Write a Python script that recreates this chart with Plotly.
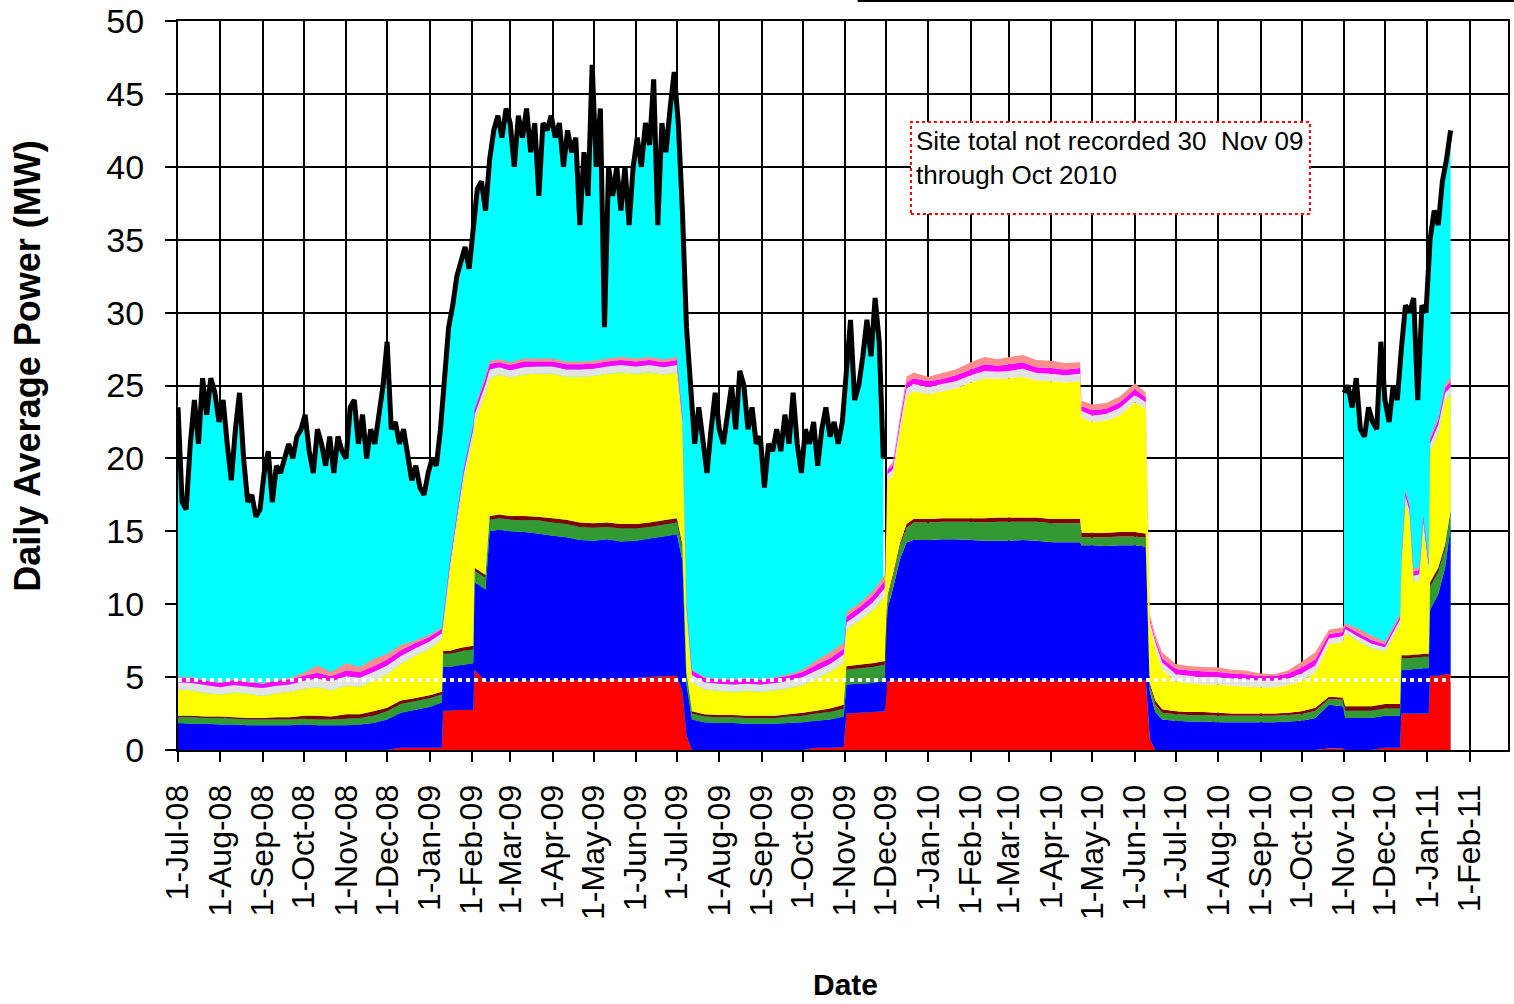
import pandas as pd
import plotly.graph_objects as go

# ---------------- data ----------------
stack_dates = [
    "2008-07-01", "2008-07-11", "2008-07-21", "2008-08-01", "2008-08-11", "2008-08-21",
    "2008-09-01", "2008-09-11", "2008-09-21", "2008-10-01", "2008-10-11", "2008-10-21",
    "2008-11-01", "2008-11-11", "2008-11-21", "2008-12-01", "2008-12-11", "2008-12-21",
    "2009-01-01", "2009-01-10", "2009-01-11", "2009-01-16", "2009-01-21", "2009-01-26",
    "2009-02-02", "2009-02-03", "2009-02-11", "2009-02-14", "2009-02-21", "2009-03-01",
    "2009-03-11", "2009-03-21", "2009-04-01", "2009-04-11", "2009-04-21", "2009-05-01",
    "2009-05-11", "2009-05-21", "2009-06-01", "2009-06-11", "2009-06-21", "2009-07-01",
    "2009-07-05", "2009-07-08", "2009-07-12", "2009-07-21", "2009-08-01", "2009-08-11",
    "2009-08-21", "2009-09-01", "2009-09-11", "2009-09-21", "2009-10-01", "2009-10-11",
    "2009-10-21", "2009-10-31", "2009-11-02", "2009-11-11", "2009-11-21", "2009-11-30",
    "2009-12-02", "2009-12-06", "2009-12-11", "2009-12-16", "2009-12-21", "2010-01-01",
    "2010-01-11", "2010-01-21", "2010-02-01", "2010-02-11", "2010-02-21", "2010-03-01",
    "2010-03-11", "2010-03-21", "2010-04-01", "2010-04-11", "2010-04-22", "2010-04-23",
    "2010-05-01", "2010-05-11", "2010-05-21", "2010-06-01", "2010-06-09", "2010-06-12",
    "2010-06-16", "2010-06-21", "2010-07-01", "2010-07-11", "2010-07-21", "2010-08-01",
    "2010-08-11", "2010-08-21", "2010-09-01", "2010-09-11", "2010-09-21", "2010-10-01",
    "2010-10-11", "2010-10-21", "2010-10-31", "2010-11-02", "2010-11-11", "2010-11-21",
    "2010-12-01", "2010-12-12", "2010-12-13", "2010-12-16", "2010-12-19", "2010-12-22",
    "2010-12-26", "2010-12-29", "2011-01-02", "2011-01-03", "2011-01-09", "2011-01-14",
    "2011-01-18",
]

red = [
    0, 0, 0, 0, 0, 0, 0, 0, 0, 0, 0, 0, 0, 0, 0, 0,
    0.15, 0.15, 0.15, 0.15,
    2.7, 2.7, 2.75, 2.75, 2.75,
    5.5, 4.7, 4.7, 4.7, 4.7, 4.75, 4.75, 4.8, 4.8, 4.8, 4.85, 4.85, 4.9, 4.95, 5.0, 5.05, 5.1,
    4.0, 1.0, 0,
    0, 0, 0, 0, 0, 0, 0, 0,
    0.15, 0.15, 0.2,
    2.5, 2.55, 2.6, 2.65,
    4.7, 4.75, 4.75, 4.75, 4.75, 4.75, 4.75, 4.75, 4.75, 4.75, 4.75, 4.75, 4.75, 4.75, 4.75,
    4.75, 4.75, 4.75, 4.75, 4.75, 4.75, 4.75, 4.75,
    0.7, 0,
    0, 0, 0, 0, 0, 0, 0, 0, 0, 0, 0, 0,
    0.1, 0.1,
    0, 0, 0,
    0.15, 0.15,
    2.5, 2.5, 2.5, 2.5, 2.5, 2.5, 2.5,
    5.1, 5.1, 5.2, 5.2,
]

blue = [
    1.85, 1.8, 1.8, 1.75, 1.75, 1.7, 1.7, 1.7, 1.7, 1.75, 1.7, 1.7, 1.7, 1.75, 1.85, 2.1,
    2.4, 2.6, 2.8, 3.1,
    3.0, 3.0, 3.05, 3.1, 3.2,
    6.0, 6.3, 10.3, 10.4, 10.3, 10.2, 10.1, 9.9, 9.8, 9.6, 9.5, 9.6, 9.4, 9.4, 9.5, 9.6, 9.7,
    9.0, 3.5, 2.1,
    1.9, 1.85, 1.85, 1.8, 1.8, 1.8, 1.85, 1.9,
    1.85, 1.95, 2.1,
    2.0, 2.0, 2.0, 2.1,
    5.0, 6.3, 8.3, 9.5, 9.65, 9.65, 9.7, 9.7, 9.65, 9.6, 9.6, 9.6, 9.65, 9.6, 9.5,
    9.5, 9.5, 9.3, 9.3, 9.25, 9.3, 9.3, 9.2,
    3.3, 2.6,
    2.1, 2.0, 1.95, 1.95, 1.9, 1.9, 1.9, 1.9, 1.9, 1.95, 2.0, 2.2,
    3.0, 2.9,
    2.2, 2.2, 2.2,
    2.2, 2.2,
    3.0, 3.0, 3.0, 3.05, 3.05, 3.1, 3.1,
    4.5, 5.6, 7.3, 10.1,
]

green = [
    0.4, 0.45, 0.4, 0.45, 0.4, 0.4, 0.4, 0.4, 0.4, 0.4, 0.4, 0.4, 0.45, 0.45, 0.5, 0.55,
    0.6, 0.6, 0.6, 0.55,
    0.9, 0.9, 0.9, 0.95, 0.95,
    0.8, 0.8, 0.8, 0.8, 0.8, 0.8, 0.9, 0.9, 0.9, 0.9, 0.9, 0.85, 0.9, 0.85, 0.8, 0.8, 0.8,
    0.8, 0.6, 0.4,
    0.4, 0.4, 0.4, 0.4, 0.4, 0.4, 0.45, 0.45,
    0.5, 0.5, 0.55,
    1.0, 1.05, 1.1, 1.1,
    0.7, 0.8, 0.9, 1.0, 1.2, 1.2, 1.2, 1.2, 1.25, 1.25, 1.3, 1.3, 1.25, 1.3, 1.3,
    1.3, 1.3, 0.55, 0.55, 0.6, 0.6, 0.6, 0.6,
    0.4, 0.5,
    0.45, 0.45, 0.45, 0.45, 0.45, 0.45, 0.45, 0.45, 0.45, 0.45, 0.45, 0.5,
    0.4, 0.45,
    0.5, 0.5, 0.5,
    0.5, 0.5,
    0.8, 0.8, 0.8, 0.8, 0.8, 0.8, 0.8,
    1.6, 1.5, 1.3, 0.9,
]

brown = [
    0.1, 0.1, 0.1, 0.1, 0.1, 0.1, 0.1, 0.15, 0.15, 0.2, 0.25, 0.2, 0.3, 0.25, 0.3, 0.25,
    0.25, 0.2, 0.2, 0.2,
    0.2, 0.2, 0.25, 0.25, 0.25,
    0.2, 0.2, 0.25, 0.25, 0.25, 0.3, 0.25, 0.3, 0.3, 0.3, 0.3, 0.3, 0.3, 0.3, 0.3, 0.3, 0.3,
    0.3, 0.2, 0.15,
    0.15, 0.15, 0.15, 0.15, 0.15, 0.15, 0.15, 0.2,
    0.2, 0.25, 0.25,
    0.25, 0.25, 0.25, 0.25,
    0.2, 0.2, 0.2, 0.25, 0.25, 0.25, 0.25, 0.25, 0.25, 0.3, 0.3, 0.3, 0.3, 0.3, 0.3,
    0.3, 0.3, 0.3, 0.3, 0.3, 0.3, 0.3, 0.3,
    0.2, 0.3,
    0.25, 0.2, 0.2, 0.2, 0.2, 0.15, 0.15, 0.15, 0.15, 0.15, 0.2, 0.2,
    0.15, 0.15,
    0.3, 0.3, 0.3,
    0.3, 0.3,
    0.2, 0.2, 0.2, 0.2, 0.2, 0.2, 0.2,
    0.3, 0.3, 0.3, 0.2,
]

yellow = [
    1.8, 1.75, 1.6, 1.5, 1.7, 1.65, 1.5, 1.65, 1.75, 1.85, 1.95, 1.8, 1.95, 1.9, 2.1, 2.3,
    2.5, 2.9, 3.2, 3.6,
    1.6, 5.5, 8.55, 11.45, 14.35,
    10.0, 12.5, 9.45, 9.6, 9.5, 9.7, 9.8, 9.9, 9.8, 10.0, 10.1, 10.2, 10.4, 10.3, 10.3, 10.0, 10.0,
    8.0, 4.0, 2.0,
    1.7, 1.65, 1.6, 1.7, 1.65, 1.75, 1.8, 1.9,
    2.2, 2.5, 2.9,
    2.5, 3.0, 3.6, 4.4,
    7.9, 6.8, 7.5, 8.8, 8.75, 8.55, 8.7, 8.9, 9.3, 9.6, 9.5, 9.55, 9.65, 9.4, 9.45,
    9.35, 9.45, 7.9, 7.6, 7.7, 8.0, 8.9, 8.55,
    3.9, 3.6,
    2.7, 2.05, 2.0, 1.9, 1.95, 1.9, 1.85, 1.8, 1.8, 1.9, 2.1, 2.4,
    3.6, 3.8,
    5.0, 4.5, 4.0,
    3.6, 5.5,
    6.0, 10.5, 9.5, 5.0, 5.1, 8.7, 5.6,
    9.0, 9.3, 9.9, 8.0,
]

grey = [
    0.5, 0.5, 0.55, 0.5, 0.5, 0.5, 0.55, 0.5, 0.5, 0.55, 0.6, 0.6, 0.65, 0.6, 0.6, 0.6,
    0.55, 0.5, 0.5, 0.4,
    0.4, 0.4, 0.4, 0.45, 0.5,
    0.5, 0.6, 0.6, 0.5, 0.5, 0.5, 0.5, 0.5, 0.5, 0.5, 0.5, 0.5, 0.5, 0.5, 0.5, 0.5, 0.5,
    0.5, 0.5, 0.5,
    0.5, 0.5, 0.5, 0.5, 0.5, 0.5, 0.5, 0.55,
    0.55, 0.55, 0.55,
    0.5, 0.5, 0.55, 0.6,
    0.4, 0.4, 0.5, 0.5, 0.5, 0.5, 0.5, 0.5, 0.5, 0.5, 0.5, 0.5, 0.55, 0.5, 0.5,
    0.5, 0.5, 0.45, 0.45, 0.45, 0.5, 0.5, 0.45,
    0.3, 0.4,
    0.5, 0.5, 0.5, 0.5, 0.5, 0.5, 0.5, 0.45, 0.45, 0.45, 0.5, 0.5,
    0.4, 0.4,
    0.3, 0.3, 0.3,
    0.3, 0.3,
    0.4, 0.4, 0.4, 0.4, 0.4, 0.4, 0.4,
    0.5, 0.5, 0.5, 0.5,
]

magenta = [
    0.3, 0.35, 0.3, 0.3, 0.35, 0.3, 0.3, 0.35, 0.35, 0.35, 0.4, 0.35, 0.4, 0.4, 0.4, 0.4,
    0.4, 0.35, 0.3, 0.3,
    0.3, 0.3, 0.3, 0.3, 0.3,
    0.35, 0.4, 0.4, 0.35, 0.35, 0.4, 0.35, 0.35, 0.35, 0.35, 0.35, 0.35, 0.35, 0.35, 0.35, 0.35, 0.35,
    0.35, 0.3, 0.3,
    0.3, 0.3, 0.3, 0.35, 0.3, 0.35, 0.35, 0.35,
    0.4, 0.4, 0.4,
    0.4, 0.4, 0.45, 0.5,
    0.3, 0.3, 0.35, 0.4, 0.4, 0.4, 0.35, 0.4, 0.4, 0.45, 0.4, 0.45, 0.45, 0.4, 0.4,
    0.4, 0.4, 0.35, 0.35, 0.35, 0.4, 0.4, 0.35,
    0.2, 0.2,
    0.3, 0.35, 0.35, 0.4, 0.35, 0.35, 0.35, 0.3, 0.3, 0.35, 0.4, 0.4,
    0.3, 0.3,
    0.2, 0.25, 0.25,
    0.2, 0.2,
    0.3, 0.3, 0.3, 0.3, 0.3, 0.3, 0.3,
    0.3, 0.35, 0.35, 0.4,
]

salmon = [
    0.05, 0.05, 0.05, 0.05, 0.05, 0.05, 0.05, 0.05, 0.1, 0.2, 0.5, 0.3, 0.5, 0.35, 0.5, 0.4,
    0.35, 0.2, 0.15, 0.1,
    0.1, 0.1, 0.1, 0.1, 0.1,
    0.1, 0.2, 0.2, 0.2, 0.2, 0.2, 0.2, 0.2, 0.2, 0.2, 0.2, 0.2, 0.2, 0.2, 0.2, 0.2, 0.2,
    0.2, 0.1, 0.05,
    0.05, 0.05, 0.05, 0.05, 0.05, 0.05, 0.1, 0.15,
    0.3, 0.4, 0.4,
    0.3, 0.3, 0.3, 0.4,
    0.1, 0.2, 0.3, 0.4, 0.4, 0.3, 0.4, 0.4, 0.5, 0.5, 0.45, 0.5, 0.5, 0.5, 0.5,
    0.45, 0.4, 0.35, 0.4, 0.4, 0.4, 0.4, 0.3,
    0.3, 0.3,
    0.4, 0.35, 0.3, 0.3, 0.3, 0.25, 0.25, 0.2, 0.15, 0.2, 0.4, 0.5,
    0.3, 0.3,
    0.2, 0.3, 0.3,
    0.2, 0.2,
    0.2, 0.2, 0.2, 0.2, 0.2, 0.2, 0.2,
    0.2, 0.2, 0.2, 0.3,
]

# Site total (MW), every 3 days; not recorded 30 Nov 09 through Oct 2010
total_start_1 = "2008-07-01"
site_total_1 = [
    23.5, 17, 16.5, 21, 24, 21, 25.5, 23, 25.5, 24.5, 22.5, 24, 21, 18.5, 22, 24.5,
    20, 17, 17.5, 16, 16.5, 19, 20.5, 17, 19.5, 19, 20, 21, 20, 21.5, 22, 23,
    20.5, 19, 22, 21, 19.5, 21.5, 19, 21.5, 20.5, 20, 23.5, 24, 21, 23, 20, 22,
    21, 23, 25, 28, 22, 22.5, 21, 22, 20, 18.5, 19.5, 18, 17.5, 19, 20, 19.5,
    22, 26, 29, 30.5, 32.5, 33.5, 34.5, 33, 36, 38.5, 39, 37, 40.5, 42.5, 43.5, 42,
    44, 43, 40, 43.5, 42, 44, 41, 43, 38, 43, 42.5, 43.5, 42, 43, 40, 42.5,
    41, 42, 36, 41, 38, 47, 40, 44, 29, 40, 38, 40, 37, 40, 36, 40,
    42, 40, 43, 41.5, 46, 36, 43, 41, 44, 46.5, 43, 37, 29, 25, 21, 23.5,
    21, 19, 22, 24.5, 22, 21, 23, 25, 22, 26, 25, 22, 23.5, 21, 21.5, 18,
    21, 20.5, 22, 20.5, 23, 21, 24.5, 21, 19, 22, 21, 22.5, 19.5, 22, 23.5, 21.5,
    22.5, 21, 22.5, 26, 29.5, 24, 25, 27, 29.5, 27, 31, 28, 20,
]
total_start_2 = "2010-11-01"
site_total_2 = [
    24.5, 25, 23.5, 25.5, 22, 21.5, 23.5, 22.5, 22, 28, 24, 22.5, 25, 24, 27.5, 30.5,
    30, 31, 24, 30.5, 30, 35, 37, 36, 39, 40.5, 42.5,
]

ref_level = 4.8  # white dotted reference line (MW)

tick_labels = [
    "1-Jul-08", "1-Aug-08", "1-Sep-08", "1-Oct-08", "1-Nov-08", "1-Dec-08",
    "1-Jan-09", "1-Feb-09", "1-Mar-09", "1-Apr-09", "1-May-09", "1-Jun-09",
    "1-Jul-09", "1-Aug-09", "1-Sep-09", "1-Oct-09", "1-Nov-09", "1-Dec-09",
    "1-Jan-10", "1-Feb-10", "1-Mar-10", "1-Apr-10", "1-May-10", "1-Jun-10",
    "1-Jul-10", "1-Aug-10", "1-Sep-10", "1-Oct-10", "1-Nov-10", "1-Dec-10",
    "1-Jan-11", "1-Feb-11",
]
y_ticks = [0, 5, 10, 15, 20, 25, 30, 35, 40, 45, 50]

# ---------------- figure ----------------
FONT = "Liberation Sans, Arial, Helvetica, sans-serif"
tick_vals = pd.to_datetime(tick_labels, format="%d-%b-%y")
t1_dates = pd.date_range(total_start_1, periods=len(site_total_1), freq="3D")
t2_dates = pd.date_range(total_start_2, periods=len(site_total_2), freq="3D")
sd = pd.to_datetime(stack_dates)

fig = go.Figure()

# cyan = remainder of site total (drawn beneath the stacked components)
for xd, yv in ((t1_dates, site_total_1), (t2_dates, site_total_2)):
    fig.add_trace(go.Scatter(x=xd, y=yv, fill="tozeroy", mode="none",
                             fillcolor="#00FFFF", hoverinfo="skip"))

layers = [
    (red, "#FF0000"), (blue, "#0000FF"), (green, "#339933"), (brown, "#800000"),
    (yellow, "#FFFF00"), (grey, "#E3E3E3"), (magenta, "#FF00FF"), (salmon, "#FF8C8C"),
]
for vals, col in layers:
    fig.add_trace(go.Scatter(x=sd, y=vals, stackgroup="comp", mode="none",
                             fillcolor=col, line=dict(width=0)))

fig.add_trace(go.Scatter(x=[sd[0], sd[-1]], y=[ref_level, ref_level], mode="lines",
                         line=dict(color="white", width=4, dash="dot")))

for xd, yv in ((t1_dates, site_total_1), (t2_dates, site_total_2)):
    fig.add_trace(go.Scatter(x=xd, y=yv, mode="lines",
                             line=dict(color="black", width=5)))

fig.update_layout(
    width=1514, height=1004, autosize=False,
    margin=dict(l=178, r=6, t=21, b=254, autoexpand=False),
    paper_bgcolor="white", plot_bgcolor="white", showlegend=False,
    font=dict(family=FONT, color="black"),
)
fig.update_xaxes(
    type="date", range=["2008-07-01", "2011-03-01"],
    tickmode="array", tickvals=tick_vals, ticktext=tick_labels, tickangle=-90,
    tickfont=dict(size=32, family=FONT, color="black"),
    ticks="outside", ticklen=10, tickwidth=2, tickcolor="black",
    showgrid=True, gridcolor="black", gridwidth=2,
    showline=True, linecolor="black", linewidth=2, mirror=True, zeroline=False,
    ticklabelstandoff=10, automargin=False,
)
fig.update_yaxes(
    range=[0, 50], tickmode="array", tickvals=y_ticks,
    tickfont=dict(size=34, family=FONT, color="black"),
    ticks="outside", ticklen=11, tickwidth=2, tickcolor="black",
    showgrid=True, gridcolor="black", gridwidth=2,
    showline=True, linecolor="black", linewidth=2, mirror=True, zeroline=False,
    ticklabelstandoff=14, automargin=False,
)

# axis titles
fig.add_annotation(text="<b>Daily Average Power (MW)</b>", textangle=-90,
                   xref="paper", yref="paper", x=-0.1128, y=0.527,
                   xanchor="center", yanchor="middle", showarrow=False,
                   font=dict(size=36, family=FONT, color="black"))
fig.add_annotation(text="<b>Date</b>", xref="paper", yref="paper",
                   x=0.502, y=-0.321, xanchor="center", yanchor="middle",
                   showarrow=False, font=dict(size=30, family=FONT, color="black"))

# note box
fig.add_shape(type="rect", xref="paper", yref="paper",
              x0=0.5511, x1=0.8511, y0=0.7353, y1=0.8615,
              line=dict(color="#FF0000", width=2, dash="dot"),
              fillcolor="white", layer="above")
fig.add_annotation(text="Site total not recorded 30&nbsp; Nov 09<br>through Oct 2010",
                   xref="paper", yref="paper", x=0.5537, y=0.8587,
                   xanchor="left", yanchor="top", align="left", showarrow=False,
                   font=dict(size=26, family=FONT, color="black"))

# short rule at the very top of the canvas
fig.add_shape(type="line", xref="paper", yref="paper",
              x0=0.511, x1=1.0045, y0=1.0274, y1=1.0274,
              line=dict(color="black", width=2))

fig.write_html(
    "out.html",
    config={"displayModeBar": False},
    post_script="document.body.style.margin='0px';document.body.style.overflow='hidden';",
)
